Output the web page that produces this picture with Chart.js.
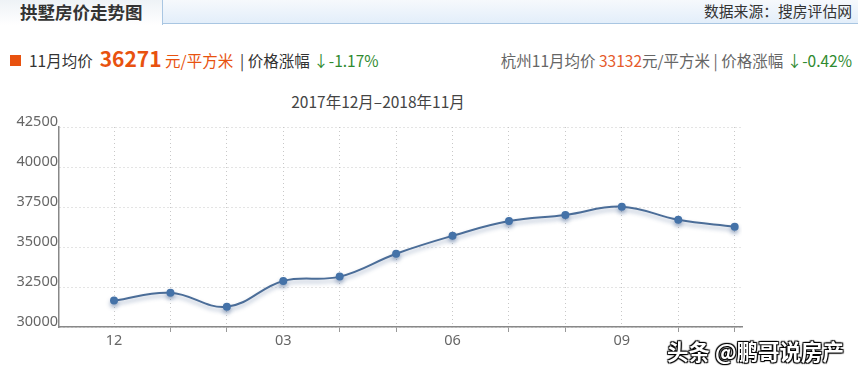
<!DOCTYPE html>
<html><head><meta charset="utf-8">
<script src="https://cdn.jsdelivr.net/npm/chart.js@4.4.1/dist/chart.umd.min.js"></script>
<style>
html,body{margin:0;padding:0;background:#fff;width:858px;height:370px;overflow:hidden;font-family:"Noto Sans CJK SC","Noto Sans",sans-serif;}
#wrap{position:relative;width:858px;height:370px;}
#bar{position:absolute;left:0;top:0;width:858px;height:24px;background:linear-gradient(#f6f9fc,#e3eefa);border-bottom:1px solid #a9c6e2;box-sizing:border-box;}
#tab{position:absolute;left:0;top:0;width:163px;height:25px;background:linear-gradient(#eef2f6,#ffffff);border-right:1px solid #a9c6e2;box-sizing:border-box;font-weight:bold;font-size:17.5px;color:#333;line-height:24px;padding-left:20px;}
#src{position:absolute;right:6px;top:0px;font-size:14.8px;color:#333;line-height:22px;}
.row{position:absolute;top:49px;font-size:15.5px;line-height:22px;color:#333;white-space:nowrap;}
#sq{position:absolute;left:10px;top:55px;width:11px;height:11px;background:#e8520f;}
.or{color:#e8520f;}
.gr{color:#2f8a2f;}
.big{font-size:21px;font-weight:bold;color:#e8520f;}
#title{position:absolute;left:0;width:756px;text-align:center;top:91px;font-size:15.5px;color:#444;line-height:20px;}
#wm{position:absolute;left:667px;top:335px;font-size:21.5px;color:#fff;font-weight:bold;text-shadow:0 0 1px #000,1px 1px 1px #000,-1px -1px 1px #000,1px -1px 1px #000,-1px 1px 1px #000;}
canvas{position:absolute;left:0;top:0;}
</style></head>
<body><div id="wrap">
<div id="bar"></div>
<div id="tab">拱墅房价走势图</div>
<div id="src">数据来源：搜房评估网</div>
<div id="sq"></div>
<div class="row" style="left:29px;top:47px;">11月均价&nbsp;&nbsp;<span class="big">36271</span> <span class="or">元/平方米</span>&nbsp;&nbsp;| 价格涨幅 <span class="gr">↓-1.17%</span></div>
<div class="row" style="right:6px;color:#666;">杭州11月均价 <span class="or" style="color:#e55a2a">33132</span>元/平方米 | 价格涨幅 <span class="gr">↓-0.42%</span></div>
<div id="title">2017年12月–2018年11月</div>
<canvas id="c" width="858" height="370"></canvas>
<div id="wm">头条 @鹏哥说房产</div>
</div>
<script>
const months = ['12','01','02','03','04','05','06','07','08','09','10','11'];
const prices = [31650, 32140, 31270, 32875, 33150, 34580, 35700, 36620, 37000, 37520, 36700, 36271];
const labelIdx = [0, 3, 6, 9];
const yTicks = [30000, 32500, 35000, 37500, 40000, 42500];

const shadow = {
  id: 'shadow',
  beforeDatasetDraw(chart){ const c=chart.ctx; c.save(); c.shadowColor='rgba(60,90,140,0.45)'; c.shadowBlur=4; c.shadowOffsetY=3; },
  afterDatasetDraw(chart){ chart.ctx.restore(); }
};
const tickFont = {size:14.5, family:'"Noto Sans","Noto Sans CJK SC",sans-serif'};

new Chart(document.getElementById('c'), {
  type: 'line',
  data: { datasets: [{
    data: prices.map((v,i)=>({x:i,y:v})),
    borderColor: '#4b6d98', borderWidth: 2, tension: 0.4,
    pointRadius: 4, pointBackgroundColor: '#4472a8', pointBorderColor: '#4472a8', pointBorderWidth: 0,
    fill: false
  }]},
  plugins: [shadow],
  options: {
    responsive: false, animation: false,
    layout: { padding: { left: 0, top: 127, right: 116, bottom: 0 } },
    plugins: { legend: {display:false}, tooltip:{enabled:false}, title:{display:false} },
    scales: {
      x: {
        type: 'linear', min: -0.975, max: 11.13,
        afterBuildTicks(s){ s.ticks = months.map((m,i)=>({value:i})); },
        afterFit(s){ s.height = 43; },
        ticks: { autoSkip:false, maxRotation:0, padding: 0, color:'#666', font: tickFont,
          callback:(v)=> labelIdx.includes(v) ? months[v] : '' },
        grid: { color:'#c8c8c8', lineWidth:1, tickLength:5, tickColor:(ctx)=> (ctx.tick && labelIdx.includes(ctx.tick.value)) ? 'rgba(0,0,0,0)' : '#999', tickBorderDash: [] },
        border: { display:true, color:'#888', width:1.5, dash:[1,3] }
      },
      y: {
        min: 30000, max: 42500,
        afterBuildTicks(s){ s.ticks = yTicks.map(v=>({value:v})); },
        afterFit(s){ s.width = 59; },
        ticks: { padding: 1, labelOffset: -5, color:'#666', font: tickFont, callback:(v)=> String(v) },
        grid: { color:'#c8c8c8', lineWidth:1, drawTicks:false },
        border: { display:true, color:'#888', width:1.5, dash:[1,3] }
      }
    }
  }
});
</script>
</body></html>
